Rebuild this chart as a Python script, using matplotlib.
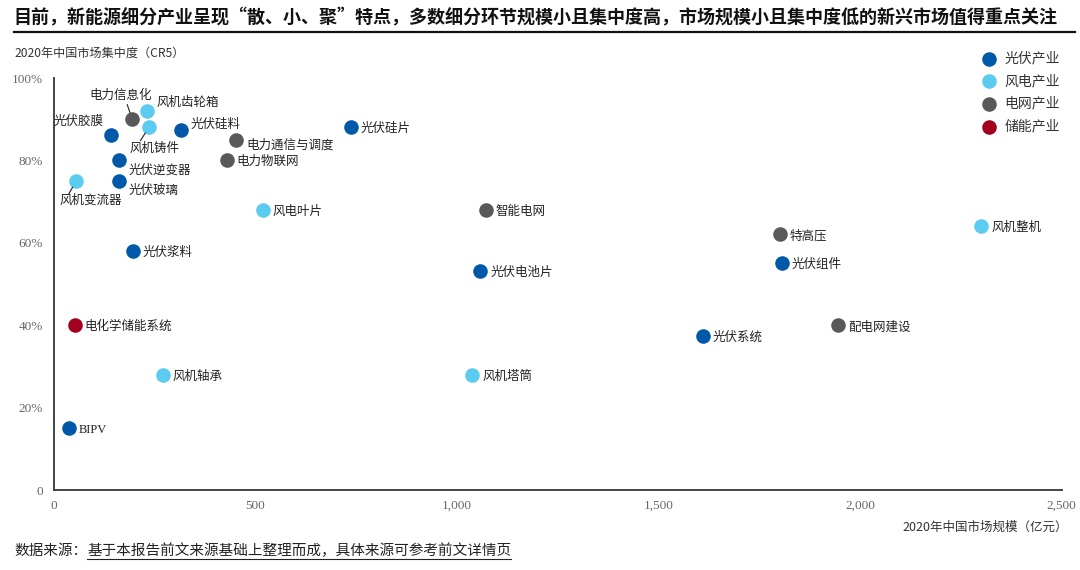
import matplotlib
matplotlib.use("Agg")
import matplotlib.pyplot as plt
from matplotlib.lines import Line2D
from matplotlib.ticker import FuncFormatter

plt.rcParams['font.family'] = ['Noto Sans CJK SC', 'DejaVu Sans']

# 2020年中国市场规模（亿元）, 集中度 CR5
names = ["光伏胶膜", "电力信息化", "风机齿轮箱", "风机铸件", "光伏硅料", "光伏硅片",
         "电力通信与调度", "电力物联网", "光伏逆变器", "光伏玻璃", "风机变流器", "风电叶片",
         "智能电网", "特高压", "风机整机", "光伏组件", "光伏电池片", "光伏浆料",
         "电化学储能系统", "光伏系统", "配电网建设", "风机轴承", "风机塔筒", "BIPV"]
market = [141, 194, 231, 236, 315, 737,
          452, 429, 161, 161, 55, 519,
          1072, 1802, 2301, 1807, 1058, 196,
          52, 1611, 1946, 271, 1038, 37]
cr5 = [0.862, 0.900, 0.920, 0.881, 0.874, 0.881,
       0.850, 0.801, 0.801, 0.750, 0.750, 0.680,
       0.680, 0.621, 0.641, 0.551, 0.532, 0.580,
       0.400, 0.374, 0.400, 0.279, 0.279, 0.150]
industry = ["光伏", "电网", "风电", "风电", "光伏", "光伏",
            "电网", "电网", "光伏", "光伏", "风电", "风电",
            "电网", "电网", "风电", "光伏", "光伏", "光伏",
            "储能", "光伏", "电网", "风电", "风电", "光伏"]

categories = ["光伏", "风电", "电网", "储能"]
cat_labels = ["光伏产业", "风电产业", "电网产业", "储能产业"]
colors = {"光伏": "#0058A9", "风电": "#5BCBF0", "电网": "#595959", "储能": "#A3001E"}

# label placement (offset points, alignment, leader line)
default_off = ((7, -1), "left", False)
label_pos = {
    "光伏胶膜": ((-5, 10), "right", False),
    "电力信息化": ((-8, 17), "center", True),
    "风机齿轮箱": ((7, 6), "left", False),
    "风机铸件": ((-14, -15), "left", True),
    "光伏硅料": ((7, 4), "left", False),
    "电力通信与调度": ((7, -4), "left", False),
    "光伏逆变器": ((7, -7), "left", False),
    "光伏玻璃": ((7, -7), "left", False),
    "风机变流器": ((-12, -14), "left", True),
}

fig = plt.figure(figsize=(10.8, 5.7), dpi=100)
ax = fig.add_axes([0.05, 0.14, 0.933, 0.723])

for c, lab in zip(categories, cat_labels):
    xs = [m for m, ind in zip(market, industry) if ind == c]
    ys = [v for v, ind in zip(cr5, industry) if ind == c]
    ax.scatter(xs, ys, s=110, color=colors[c], label=lab, zorder=3, linewidths=0)

for n, xv, yv in zip(names, market, cr5):
    (dx, dy), ha, lead = label_pos.get(n, default_off)
    ax.annotate(n, (xv, yv), xytext=(dx, dy), textcoords="offset points",
                ha=ha, va="center", fontsize=9, color="#222222",
                family=['Liberation Serif', 'Noto Sans CJK SC'] if n == "BIPV" else None)
    if lead:
        ax.annotate("", (xv, yv), xytext=(dx * 0.45, dy * 0.45 + (3 if dy > 0 else -3)),
                    textcoords="offset points",
                    arrowprops=dict(arrowstyle="-", color="#222222", lw=0.8,
                                    shrinkA=0, shrinkB=5))

ax.set_xlim(0, 2500)
ax.set_ylim(0, 1.0)
ax.set_xticks([0, 500, 1000, 1500, 2000, 2500])
ax.set_yticks([0, 0.2, 0.4, 0.6, 0.8, 1.0])
ax.xaxis.set_major_formatter(FuncFormatter(lambda v, p: f"{int(v):,}"))
ax.yaxis.set_major_formatter(FuncFormatter(lambda v, p: "0" if v == 0 else f"{v*100:.0f}%"))
for lbl in ax.get_xticklabels() + ax.get_yticklabels():
    lbl.set_family(['Liberation Serif', 'DejaVu Serif'])
    lbl.set_fontsize(9.5)
    lbl.set_color("#666666")
ax.tick_params(length=0, pad=8)
ax.tick_params(axis="x", pad=7)
for s in ["top", "right"]:
    ax.spines[s].set_visible(False)
for s in ["left", "bottom"]:
    ax.spines[s].set_color("#444444")
    ax.spines[s].set_linewidth(1.4)

leg = ax.legend(loc="upper left", bbox_to_anchor=(970 / 1080, 1.0 - 39 / 570),
                bbox_transform=fig.transFigure, frameon=False, fontsize=10,
                labelspacing=0.62, handlelength=1.0, handletextpad=0.6, markerscale=1.0)
for t in leg.get_texts():
    t.set_color("#333333")

# title and rule
fig.text(0.012, 1 - 18 / 570, "目前，新能源细分产业呈现“散、小、聚”特点，多数细分环节规模小且集中度高，市场规模小且集中度低的新兴市场值得重点关注",
         fontsize=13, fontweight="bold", va="center", ha="left", color="#111111")
fig.add_artist(Line2D([14 / 1080, 1075 / 1080], [1 - 32 / 570, 1 - 32 / 570],
                      transform=fig.transFigure, color="#111111", lw=1.6))

fig.text(14 / 1080, 1 - 53 / 570, "2020年中国市场集中度（CR5）", fontsize=8.7,
         va="center", ha="left", color="#333333")
fig.text(1068 / 1080, 1 - 527 / 570, "2020年中国市场规模（亿元）", fontsize=9,
         va="center", ha="right", color="#333333")

src1 = fig.text(14 / 1080, 1 - 551 / 570, "数据来源：", fontsize=10.5, style="italic",
                va="center", ha="left", color="#222222")
fig.canvas.draw()
bb = src1.get_window_extent()
src2 = fig.text(bb.x1 / 1080, 1 - 551 / 570, "基于本报告前文来源基础上整理而成，具体来源可参考前文详情页",
                fontsize=10.5, style="italic", va="center", ha="left", color="#222222")
fig.canvas.draw()
bb2 = src2.get_window_extent()
fig.add_artist(Line2D([bb2.x0 / 1080, bb2.x1 / 1080], [(bb2.y0 - 1) / 570, (bb2.y0 - 1) / 570],
                      transform=fig.transFigure, color="#222222", lw=0.8))

fig.savefig("out.png", dpi=100)
